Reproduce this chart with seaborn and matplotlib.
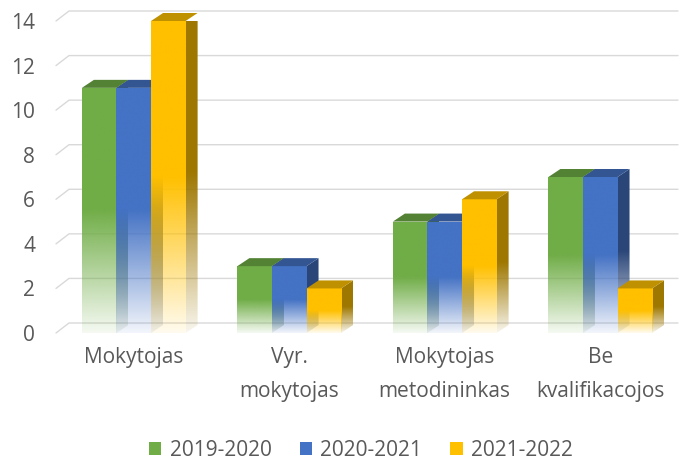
import numpy as np
import pandas as pd
import matplotlib
matplotlib.use("Agg")
import matplotlib.pyplot as plt
import seaborn as sns
from matplotlib.patches import Polygon, Patch
from matplotlib.colors import to_rgb

# -----------------------------
# Data
# -----------------------------
categories = ["Mokytojas", "Vyr.\nmokytojas", "Mokytojas\nmetodininkas", "Be\nkvalifikacojos"]
years = ["2019-2020", "2020-2021", "2021-2022"]
v_2019 = [11, 3, 5, 7]
v_2020 = [11, 3, 5, 7]
v_2021 = [14, 2, 6, 2]
colors = ["#70AD47", "#4472C4", "#FFC000"]
y_ticks = [0, 2, 4, 6, 8, 10, 12, 14]

df = pd.DataFrame({
    "cat": categories * 3,
    "year": np.repeat(years, len(categories)),
    "val": v_2019 + v_2020 + v_2021,
})

# -----------------------------
# Figure
# -----------------------------
sns.set_theme(style="white")
plt.rcParams["font.family"] = ["Open Sans", "DejaVu Sans"]
TXT = "#595959"

W, H = 680, 459
fig = plt.figure(figsize=(W / 100, H / 100), dpi=100)
ax_left, ax_bot, ax_w, ax_h = 56 / W, (H - 333) / H, 622 / W, 312 / H
ax = fig.add_axes([ax_left, ax_bot, ax_w, ax_h])

sns.barplot(data=df, x="cat", y="val", hue="year", palette=colors,
            width=0.667, saturation=1, legend=False, ax=ax)
XMIN, XMAX, YMAX = -0.5, 3.5, 14
ax.set_xlim(XMIN, XMAX)
ax.set_ylim(0, YMAX)

# pixel -> data conversion for the fake 3D depth
px_x = (ax_w * W) / (XMAX - XMIN)
px_y = (ax_h * H) / YMAX
bdx, bdy = 12 / px_x, 8 / px_y      # bar depth
gdx, gdy = 13 / px_x, 10 / px_y     # back wall depth


def fade(rgb, n=200, solid=0.5, low=0.07):
    t = np.linspace(0, 1, n)
    a = np.where(t < solid, 1.0, 1.0 - (1.0 - low) * (t - solid) / (1 - solid))
    arr = np.zeros((n, 1, 4))
    arr[:, 0, :3] = rgb
    arr[:, 0, 3] = a
    return arr


# gridlines on back wall
for y in y_ticks:
    ax.plot([XMIN, XMIN + gdx, XMAX], [y, y + gdy, y + gdy], color="#d9d9d9",
            lw=1, zorder=0, clip_on=False)

# bars: seaborn draws hue by hue, category by category
bars = list(ax.patches)
for i, p in enumerate(bars):
    k = i // len(categories)
    base = np.array(to_rgb(colors[k]))
    x0, w, h = p.get_x(), p.get_width(), p.get_height()
    x1 = x0 + w
    z = 2 + k
    p.set_facecolor("none")
    p.set_edgecolor("none")

    im = ax.imshow(fade(base), extent=(x0, x1, 0, h), aspect="auto",
                   interpolation="bilinear", zorder=z)
    im.set_clip_path(p)

    side = Polygon([(x1, 0), (x1, h), (x1 + bdx, h + bdy), (x1 + bdx, bdy)],
                   closed=True, transform=ax.transData, facecolor="none",
                   edgecolor="none")
    ax.add_patch(side)
    im2 = ax.imshow(fade(base * 0.62), extent=(x1, x1 + bdx, 0, h + bdy),
                    aspect="auto", interpolation="bilinear", zorder=z - 0.1)
    im2.set_clip_path(side)
    im2.set_clip_box(None)

    top = Polygon([(x0, h), (x1, h), (x1 + bdx, h + bdy), (x0 + bdx, h + bdy)],
                  closed=True, facecolor=base * 0.75, edgecolor="none",
                  zorder=z, clip_on=False)
    ax.add_patch(top)

ax.set_xlim(XMIN, XMAX)
ax.set_ylim(0, YMAX)
ax.set_aspect("auto")

# axes styling
sns.despine(ax=ax, left=True, bottom=True)
ax.set_xlabel("")
ax.set_ylabel("")
ax.set_yticks(y_ticks)
ax.tick_params(axis="both", length=0, colors=TXT, labelsize=15)
ax.tick_params(axis="y", pad=15)
ax.tick_params(axis="x", pad=10)
for lab in ax.get_xticklabels():
    lab.set_linespacing(1.8)

# legend
handles = [Patch(facecolor=c, edgecolor="none") for c in colors]
fig.legend(handles, years, loc="center", bbox_to_anchor=(361 / W, 9 / H),
           ncol=3, frameon=False, fontsize=15, labelcolor=TXT,
           handlelength=0.6, handleheight=0.6, handletextpad=0.4,
           columnspacing=1.35, borderaxespad=0)

fig.savefig("out.png", dpi=100)
